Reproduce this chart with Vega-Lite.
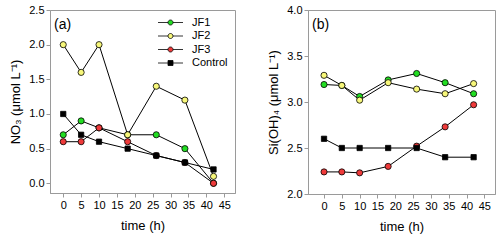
{
  "$schema": "https://vega.github.io/schema/vega-lite/v6.json",
  "padding": {"left": 9, "top": 3, "right": 0, "bottom": 0},
  "background": "white",
  "config": {
    "font": "Liberation Sans",
    "view": {"stroke": "#9a9a9a", "strokeWidth": 1},
    "axis": {
      "grid": false,
      "domainColor": "#9a9a9a",
      "tickColor": "#9a9a9a",
      "tickSize": 4,
      "tickCount": 20,
      "labelColor": "#000",
      "labelFontSize": 11,
      "labelFont": "Liberation Sans",
      "labelOverlap": false,
      "labelFlush": false,
      "titleFont": "Liberation Sans",
      "titleFontSize": 13,
      "titleFontWeight": 400,
      "titleColor": "#000"
    },
    "title": {"font": "Liberation Sans", "fontSize": 14, "fontWeight": 400, "color": "#000"}
  },
  "datasets": {
    "no3": [
      {"time": 0, "series": "JF1", "value": 0.7},
      {"time": 5, "series": "JF1", "value": 0.9},
      {"time": 10, "series": "JF1", "value": 0.8},
      {"time": 18, "series": "JF1", "value": 0.7},
      {"time": 26, "series": "JF1", "value": 0.7},
      {"time": 34, "series": "JF1", "value": 0.5},
      {"time": 42, "series": "JF1", "value": 0.0},
      {"time": 0, "series": "JF2", "value": 2.0},
      {"time": 5, "series": "JF2", "value": 1.6},
      {"time": 10, "series": "JF2", "value": 2.0},
      {"time": 18, "series": "JF2", "value": 0.7},
      {"time": 26, "series": "JF2", "value": 1.4},
      {"time": 34, "series": "JF2", "value": 1.2},
      {"time": 42, "series": "JF2", "value": 0.1},
      {"time": 0, "series": "JF3", "value": 0.6},
      {"time": 5, "series": "JF3", "value": 0.6},
      {"time": 10, "series": "JF3", "value": 0.8},
      {"time": 18, "series": "JF3", "value": 0.6},
      {"time": 26, "series": "JF3", "value": 0.4},
      {"time": 34, "series": "JF3", "value": 0.3},
      {"time": 42, "series": "JF3", "value": 0.0},
      {"time": 0, "series": "Control", "value": 1.0},
      {"time": 5, "series": "Control", "value": 0.7},
      {"time": 10, "series": "Control", "value": 0.6},
      {"time": 18, "series": "Control", "value": 0.5},
      {"time": 26, "series": "Control", "value": 0.4},
      {"time": 34, "series": "Control", "value": 0.3},
      {"time": 42, "series": "Control", "value": 0.2}
    ],
    "si": [
      {"time": 0, "series": "JF1", "value": 3.19},
      {"time": 5, "series": "JF1", "value": 3.18},
      {"time": 10, "series": "JF1", "value": 3.06},
      {"time": 18, "series": "JF1", "value": 3.24},
      {"time": 26, "series": "JF1", "value": 3.31},
      {"time": 34, "series": "JF1", "value": 3.21},
      {"time": 42, "series": "JF1", "value": 3.09},
      {"time": 0, "series": "JF2", "value": 3.29},
      {"time": 5, "series": "JF2", "value": 3.18},
      {"time": 10, "series": "JF2", "value": 3.02},
      {"time": 18, "series": "JF2", "value": 3.21},
      {"time": 26, "series": "JF2", "value": 3.14},
      {"time": 34, "series": "JF2", "value": 3.09},
      {"time": 42, "series": "JF2", "value": 3.2},
      {"time": 0, "series": "JF3", "value": 2.24},
      {"time": 5, "series": "JF3", "value": 2.24},
      {"time": 10, "series": "JF3", "value": 2.23},
      {"time": 18, "series": "JF3", "value": 2.3},
      {"time": 26, "series": "JF3", "value": 2.52},
      {"time": 34, "series": "JF3", "value": 2.73},
      {"time": 42, "series": "JF3", "value": 2.97},
      {"time": 0, "series": "Control", "value": 2.6},
      {"time": 5, "series": "Control", "value": 2.5},
      {"time": 10, "series": "Control", "value": 2.5},
      {"time": 18, "series": "Control", "value": 2.5},
      {"time": 26, "series": "Control", "value": 2.5},
      {"time": 34, "series": "Control", "value": 2.4},
      {"time": 42, "series": "Control", "value": 2.4}
    ]
  },
  "spacing": 31,
  "resolve": {"scale": {"fill": "independent", "x": "independent", "y": "independent"}, "legend": {"fill": "independent"}},
  "hconcat": [
    {
      "width": 185,
      "height": 183,
      "title": {"text": "(a)", "anchor": "start", "frame": "group", "offset": -24, "dx": 4, "dy": 4},
      "data": {"name": "no3"},
      "layer": [
        {
          "mark": {"type": "line", "color": "#000", "strokeWidth": 1},
          "encoding": {
            "x": {"field": "time", "type": "quantitative", "scale": {"domain": [-3.7, 48], "nice": false, "zero": false},
                  "axis": {"values": [0, 5, 10, 15, 20, 25, 30, 35, 40, 45], "tickCount": 20, "labelOverlap": false, "title": "time (h)", "titlePadding": 9, "titleFontWeight": 400}},
            "y": {"field": "value", "type": "quantitative", "scale": {"domain": [-0.14, 2.5], "nice": false, "zero": false},
                  "axis": {"values": [0, 0.5, 1, 1.5, 2, 2.5], "tickCount": 20, "labelOverlap": false, "format": ".1f", "title": "NO₃ (μmol L⁻¹)", "titlePadding": 6, "titleFontWeight": 400}},
            "detail": {"field": "series"}
          }
        },
        {
          "mark": {"type": "point", "filled": true, "stroke": "#000", "strokeWidth": 0.8, "opacity": 1},
          "encoding": {
            "x": {"field": "time", "type": "quantitative"},
            "y": {"field": "value", "type": "quantitative"},
            "fill": {"field": "series", "type": "nominal",
                     "scale": {"domain": ["JF1", "JF2", "JF3", "Control"], "range": ["#22dd22", "#f7f77a", "#ee3a3a", "#000000"]},
                     "legend": {
                       "title": null,
                       "orient": "top-right",
                       "offset": 7,
                       "padding": 0,
                       "symbolSize": 25,
                       "symbolStrokeColor": "#000",
                       "symbolStrokeWidth": 0.8,
                       "symbolOpacity": 1,
                       "labelFontSize": 11,
                       "labelOffset": 16,
                       "rowPadding": 1.5,
                       "labelExpr": "datum.label == 'Control' ? '\u00a0Control' : datum.label",
                       "encode": {"symbols": {"update": {"shape": {"signal": "datum.value == 'Control' ? 'M-5,0H-1M1,0H5M-1,-1H1V1H-1Z' : 'M-5,0H-1M1,0H5M1,0A1,1,0,1,1,-1,0A1,1,0,1,1,1,0Z'"}}}}
                     }},
            "shape": {"condition": {"test": "datum.series == 'Control'", "value": "square"}, "value": "circle"},
            "size": {"condition": {"test": "datum.series == 'Control'", "value": 28}, "value": 38}
          }
        }
      ]
    },
    {
      "width": 187,
      "height": 184,
      "title": {"text": "(b)", "anchor": "start", "frame": "group", "offset": -24, "dx": 4, "dy": 4},
      "data": {"name": "si"},
      "layer": [
        {
          "mark": {"type": "line", "color": "#000", "strokeWidth": 1},
          "encoding": {
            "x": {"field": "time", "type": "quantitative", "scale": {"domain": [-4.5, 48], "nice": false, "zero": false},
                  "axis": {"values": [0, 5, 10, 15, 20, 25, 30, 35, 40, 45], "tickCount": 20, "labelOverlap": false, "title": "time (h)", "titlePadding": 9, "titleFontWeight": 400}},
            "y": {"field": "value", "type": "quantitative", "scale": {"domain": [2, 4], "nice": false, "zero": false},
                  "axis": {"values": [2, 2.5, 3, 3.5, 4], "tickCount": 20, "labelOverlap": false, "format": ".1f", "title": "Si(OH)₄ (μmol L⁻¹)", "titlePadding": 6, "titleFontWeight": 400}},
            "detail": {"field": "series"}
          }
        },
        {
          "mark": {"type": "point", "filled": true, "stroke": "#000", "strokeWidth": 0.8, "opacity": 1},
          "encoding": {
            "x": {"field": "time", "type": "quantitative"},
            "y": {"field": "value", "type": "quantitative"},
            "fill": {"field": "series", "type": "nominal",
                     "scale": {"domain": ["JF1", "JF2", "JF3", "Control"], "range": ["#22dd22", "#f7f77a", "#ee3a3a", "#000000"]},
                     "legend": null},
            "shape": {"condition": {"test": "datum.series == 'Control'", "value": "square"}, "value": "circle"},
            "size": {"condition": {"test": "datum.series == 'Control'", "value": 28}, "value": 38}
          }
        }
      ]
    }
  ]
}
